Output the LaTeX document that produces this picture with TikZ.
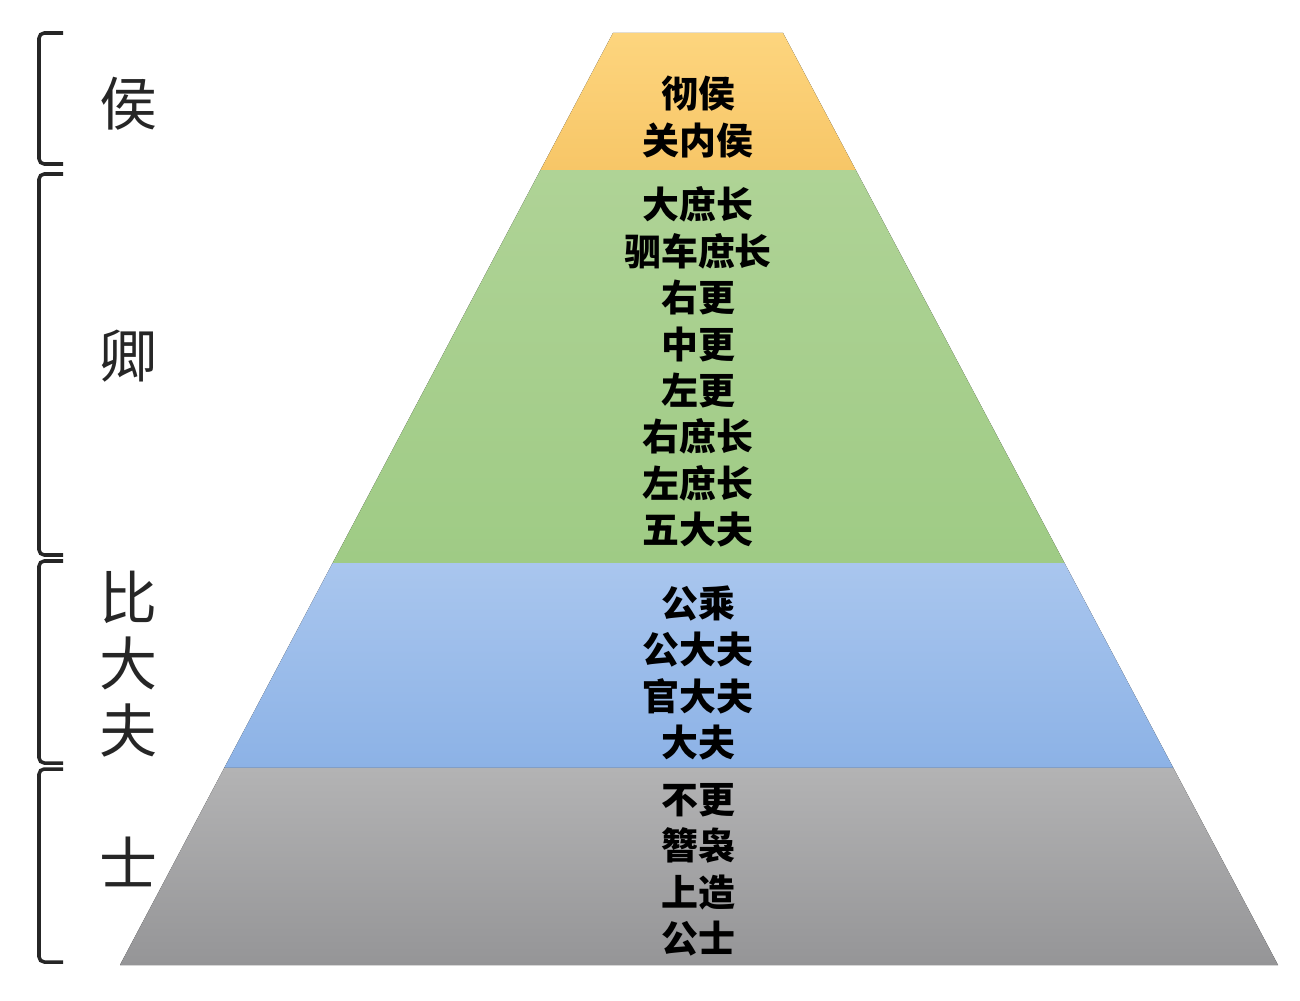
\documentclass[tikz,border=0pt]{standalone}
\usepackage{fontspec}
\newfontfamily\cjk{Noto Sans CJK SC}
\usetikzlibrary{calc}

\definecolor{houtop}{HTML}{FDD57E}
\definecolor{houbot}{HTML}{F7C667}
\definecolor{qingtop}{HTML}{AFD396}
\definecolor{qingbot}{HTML}{9FCB85}
\definecolor{dftop}{HTML}{A9C6EE}
\definecolor{dfbot}{HTML}{8CB2E6}
\definecolor{shitop}{HTML}{B3B3B4}
\definecolor{shibot}{HTML}{959597}

\begin{document}
\begin{tikzpicture}[
		x=0.02cm, y=-0.02cm,
		layer/.style={draw=none, shading=axis, shading angle=0},
		rank/.style={align=center, inner sep=0pt, text=black,
			font=\cjk\bfseries\fontsize{21pt}{26.4pt}\selectfont},
		tier/.style={inner sep=0pt, align=center, text=black!85,
			font=\cjk\fontsize{33pt}{38pt}\selectfont},
		bracket/.style={line width=2pt, black!85, rounded corners=3pt}
		]
		\useasboundingbox (0,0) rectangle (1300,1000);
		
		% Pyramid outline
		\coordinate (topL) at (613,33);
		\coordinate (topR) at (783,33);
		\coordinate (botL) at (120,965);
		\coordinate (botR) at (1278,965);
		
		% Layers, top to bottom
		\fill[layer, top color=houtop, bottom color=houbot]
		(topL) -- (topR) -- ($(topR)!0.147!(botR)$) -- ($(topL)!0.147!(botL)$) -- cycle;
		\fill[layer, top color=qingtop, bottom color=qingbot]
		($(topL)!0.147!(botL)$) -- ($(topR)!0.147!(botR)$) -- ($(topR)!0.5687!(botR)$) -- ($(topL)!0.5687!(botL)$) -- cycle;
		\fill[layer, top color=dftop, bottom color=dfbot]
		($(topL)!0.5687!(botL)$) -- ($(topR)!0.5687!(botR)$) -- ($(topR)!0.7886!(botR)$) -- ($(topL)!0.7886!(botL)$) -- cycle;
		\fill[layer, top color=shitop, bottom color=shibot]
		($(topL)!0.7886!(botL)$) -- ($(topR)!0.7886!(botR)$) -- (botR) -- (botL) -- cycle;
		
		% Ranks inside the layers
		\node[rank] (hou) at (698,117) {彻侯\\关内侯};
		\node[rank] (qing) at (698,367) {大庶长\\驷车庶长\\右更\\中更\\左更\\右庶长\\左庶长\\五大夫};
		\node[rank] (dafu) at (698,673) {公乘\\公大夫\\官大夫\\大夫};
		\node[rank] (shi) at (698,870) {不更\\簪袅\\上造\\公士};
		
		% Brackets on the left
		\draw[bracket] (63,33) -- (39,33) -- (39,164) -- (63,164);
		\draw[bracket] (63,174) -- (39,174) -- (39,555) -- (63,555);
		\draw[bracket] (63,561) -- (39,561) -- (39,763) -- (63,763);
		\draw[bracket] (63,769) -- (39,769) -- (39,962) -- (63,962);
		
		% Tier names
		\node[tier] (thou) at (128,104) {侯};
		\node[tier] (tqing) at (128,356) {卿};
		\node[tier] (tdafu) at (128,664) {比\\大\\夫};
		\node[tier] (tshi) at (128,862) {士};
		
	\end{tikzpicture}
\end{document}
